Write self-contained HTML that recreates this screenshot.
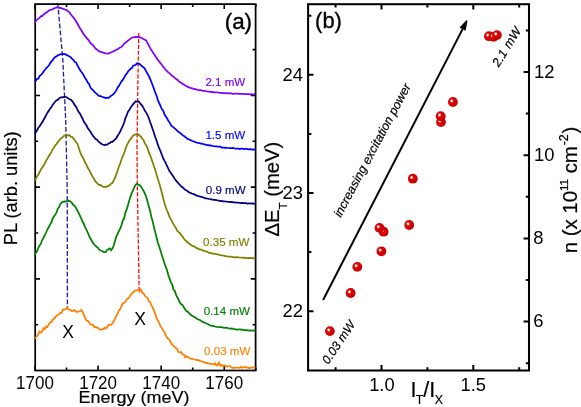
<!DOCTYPE html>
<html><head><meta charset="utf-8"><title>figure</title>
<style>html,body{margin:0;padding:0;background:#fff;}svg{display:block;}text{font-family:'Liberation Sans', sans-serif;}</style></head><body>
<svg width="581" height="407" viewBox="0 0 581 407">
<rect x="0" y="0" width="581" height="407" fill="#fff"/>
<defs><radialGradient id="sph" cx="0.38" cy="0.38" r="0.64" fx="0.38" fy="0.38"><stop offset="0" stop-color="#ffffff"/><stop offset="0.1" stop-color="#fff4f4"/><stop offset="0.22" stop-color="#ee6a6a"/><stop offset="0.33" stop-color="#d80404"/><stop offset="0.85" stop-color="#d00000"/><stop offset="1" stop-color="#b80000"/></radialGradient></defs>
<g id="panel-a">
<clipPath id="ca"><rect x="34.6" y="4.1" width="221.59999999999997" height="366.4"/></clipPath>
<path d="M57.8,3 L62.8,60 L65.7,120 L67.2,190 L67.4,308" fill="none" stroke="#1c1c9c" stroke-width="1.3" stroke-dasharray="4.8,2.1"/>
<path d="M138.8,33 L137.9,80 L137.0,150 L137.4,190 L139.2,293" fill="none" stroke="#ff0000" stroke-width="1.25" stroke-dasharray="4.1,1.8"/>
<rect x="35.2" y="4.1" width="220.39999999999998" height="366.4" fill="none" stroke="#000" stroke-width="1.75"/>
<path d="M35.00,4.1v5M35.00,370.5v-5M66.54,4.1v3M66.54,370.5v-3M98.08,4.1v5M98.08,370.5v-5M129.62,4.1v3M129.62,370.5v-3M161.16,4.1v5M161.16,370.5v-5M192.70,4.1v3M192.70,370.5v-3M224.24,4.1v5M224.24,370.5v-5M255.78,4.1v3M255.78,370.5v-3M35.2,49.60h3.0M255.6,49.60h-3.0M35.2,95.45h4.8M255.6,95.45h-4.8M35.2,141.30h3.0M255.6,141.30h-3.0M35.2,187.15h4.8M255.6,187.15h-4.8M35.2,233.00h3.0M255.6,233.00h-3.0M35.2,278.85h4.8M255.6,278.85h-4.8M35.2,324.70h3.0M255.6,324.70h-3.0" stroke="#000" stroke-width="1.6" fill="none"/>
<g clip-path="url(#ca)" fill="none" stroke-width="1.75" stroke-linejoin="miter">
<path d="M34.4,22.7 L35.7,21.0 L37.0,19.8 L38.3,18.6 L39.6,17.9 L40.9,16.1 L42.2,16.1 L43.5,14.5 L44.8,13.7 L46.1,12.6 L47.4,12.1 L48.7,10.5 L50.0,10.2 L51.3,9.5 L52.6,9.3 L53.9,8.3 L55.2,8.0 L56.5,7.5 L57.8,7.6 L59.1,7.8 L60.4,7.6 L61.7,8.4 L63.0,8.8 L64.3,9.2 L65.6,9.8 L66.9,10.1 L68.2,11.3 L69.5,12.4 L70.8,14.2 L72.1,16.0 L73.4,17.4 L74.7,19.3 L76.0,21.3 L77.3,23.5 L78.6,25.8 L79.9,28.2 L81.2,30.0 L82.5,32.2 L83.8,34.4 L85.1,36.0 L86.4,37.6 L87.7,39.1 L89.0,40.8 L90.3,42.9 L91.6,44.0 L92.9,45.2 L94.2,46.8 L95.5,48.6 L96.8,49.4 L98.1,50.6 L99.4,51.4 L100.7,51.8 L102.0,52.1 L103.3,52.7 L104.6,53.1 L105.9,53.4 L107.2,53.5 L108.5,53.3 L109.8,52.8 L111.1,52.5 L112.4,51.6 L113.7,51.4 L115.0,50.6 L116.3,49.8 L117.6,49.3 L118.9,48.3 L120.2,47.6 L121.5,46.7 L122.8,45.7 L124.1,43.8 L125.4,42.7 L126.7,41.7 L128.0,40.6 L129.3,39.6 L130.6,38.6 L131.9,37.5 L133.2,37.4 L134.5,37.2 L135.8,36.9 L137.1,37.0 L138.4,36.9 L139.7,37.3 L141.0,37.8 L142.3,38.4 L143.6,39.1 L144.9,39.8 L146.2,40.6 L147.5,42.8 L148.8,45.3 L150.1,47.9 L151.4,50.1 L152.7,52.0 L154.0,54.0 L155.3,55.9 L156.6,58.1 L157.9,59.9 L159.2,61.5 L160.5,63.3 L161.8,64.8 L163.1,66.7 L164.4,68.0 L165.7,69.8 L167.0,71.0 L168.3,72.4 L169.6,73.3 L170.9,74.7 L172.2,76.0 L173.5,76.7 L174.8,77.9 L176.1,79.0 L177.4,79.8 L178.7,81.2 L180.0,82.3 L181.3,82.8 L182.6,83.9 L183.9,84.4 L185.2,85.5 L186.5,86.0 L187.8,86.9 L189.1,87.4 L190.4,87.8 L191.7,88.1 L193.0,88.7 L194.3,89.1 L195.6,89.1 L196.9,89.7 L198.2,90.0 L199.5,90.1 L200.8,90.2 L202.1,90.7 L203.4,90.8 L204.7,91.0 L206.0,91.1 L207.3,91.5 L208.6,91.7 L209.9,91.7 L211.2,92.0 L212.5,91.9 L213.8,92.3 L215.1,92.3 L216.4,92.4 L217.7,92.5 L219.0,92.7 L220.3,92.8 L221.6,92.9 L222.9,93.0 L224.2,93.0 L225.5,93.2 L226.8,93.2 L228.1,93.3 L229.4,93.3 L230.7,93.2 L232.0,93.6 L233.3,93.8 L234.6,93.6 L235.9,93.6 L237.2,93.7 L238.5,93.8 L239.8,93.8 L241.1,93.8 L242.4,93.9 L243.7,93.9 L245.0,94.0 L246.3,94.0 L247.6,94.2 L248.9,94.1 L250.2,94.3 L251.5,94.2 L252.8,94.5 L254.1,94.1 L255.4,94.2" stroke="#8000ff"/>
<path d="M34.4,82.2 L35.7,80.9 L37.0,78.9 L38.3,78.7 L39.6,76.1 L40.9,74.9 L42.2,73.8 L43.5,71.6 L44.8,70.0 L46.1,68.3 L47.4,66.9 L48.7,65.8 L50.0,63.4 L51.3,61.4 L52.6,60.3 L53.9,58.3 L55.2,57.0 L56.5,56.4 L57.8,55.2 L59.1,54.9 L60.4,54.1 L61.7,54.1 L63.0,54.1 L64.3,53.8 L65.6,54.4 L66.9,55.1 L68.2,55.7 L69.5,56.4 L70.8,57.4 L72.1,58.9 L73.4,59.9 L74.7,62.0 L76.0,62.2 L77.3,65.0 L78.6,67.3 L79.9,69.8 L81.2,71.7 L82.5,73.3 L83.8,75.7 L85.1,78.1 L86.4,80.0 L87.7,82.5 L89.0,83.8 L90.3,87.2 L91.6,89.0 L92.9,89.9 L94.2,91.7 L95.5,92.9 L96.8,93.8 L98.1,95.1 L99.4,96.2 L100.7,96.2 L102.0,96.7 L103.3,97.2 L104.6,97.6 L105.9,98.1 L107.2,97.6 L108.5,97.8 L109.8,97.1 L111.1,95.6 L112.4,95.0 L113.7,93.9 L115.0,92.3 L116.3,90.4 L117.6,87.5 L118.9,85.9 L120.2,83.6 L121.5,81.3 L122.8,79.9 L124.1,77.8 L125.4,75.2 L126.7,73.7 L128.0,71.5 L129.3,70.2 L130.6,68.6 L131.9,68.1 L133.2,65.6 L134.5,65.3 L135.8,64.7 L137.1,63.3 L138.4,63.6 L139.7,64.0 L141.0,65.1 L142.3,66.5 L143.6,67.5 L144.9,68.8 L146.2,71.4 L147.5,73.7 L148.8,75.8 L150.1,78.9 L151.4,82.0 L152.7,85.5 L154.0,88.9 L155.3,93.0 L156.6,95.7 L157.9,100.1 L159.2,103.1 L160.5,105.9 L161.8,109.0 L163.1,110.5 L164.4,114.2 L165.7,116.4 L167.0,118.1 L168.3,120.8 L169.6,122.4 L170.9,125.1 L172.2,126.4 L173.5,127.4 L174.8,128.4 L176.1,129.7 L177.4,130.9 L178.7,132.0 L180.0,132.9 L181.3,134.0 L182.6,135.1 L183.9,136.0 L185.2,137.0 L186.5,137.9 L187.8,139.2 L189.1,139.4 L190.4,140.1 L191.7,140.8 L193.0,141.2 L194.3,141.7 L195.6,142.2 L196.9,142.7 L198.2,143.0 L199.5,143.1 L200.8,143.7 L202.1,143.6 L203.4,144.1 L204.7,144.4 L206.0,144.6 L207.3,145.1 L208.6,145.2 L209.9,145.6 L211.2,145.5 L212.5,146.0 L213.8,146.2 L215.1,146.3 L216.4,146.3 L217.7,146.6 L219.0,146.6 L220.3,146.7 L221.6,147.7 L222.9,147.5 L224.2,147.8 L225.5,147.6 L226.8,147.9 L228.1,148.0 L229.4,148.1 L230.7,148.2 L232.0,148.2 L233.3,148.0 L234.6,148.5 L235.9,148.6 L237.2,148.7 L238.5,148.6 L239.8,149.0 L241.1,148.7 L242.4,148.7 L243.7,149.1 L245.0,148.9 L246.3,148.9 L247.6,149.1 L248.9,149.3 L250.2,149.2 L251.5,149.3 L252.8,149.9 L254.1,149.4 L255.4,149.5" stroke="#0000ff"/>
<path d="M34.4,134.3 L35.7,132.2 L37.0,130.2 L38.3,127.8 L39.6,126.3 L40.9,124.3 L42.2,122.3 L43.5,120.0 L44.8,117.8 L46.1,115.2 L47.4,112.6 L48.7,110.9 L50.0,108.8 L51.3,107.2 L52.6,104.9 L53.9,103.2 L55.2,101.7 L56.5,100.2 L57.8,99.9 L59.1,98.4 L60.4,97.5 L61.7,97.1 L63.0,97.3 L64.3,96.9 L65.6,96.8 L66.9,97.4 L68.2,98.5 L69.5,99.0 L70.8,99.7 L72.1,100.9 L73.4,102.8 L74.7,105.2 L76.0,106.6 L77.3,109.3 L78.6,111.7 L79.9,113.5 L81.2,116.2 L82.5,118.5 L83.8,121.5 L85.1,123.5 L86.4,125.3 L87.7,128.1 L89.0,129.8 L90.3,131.5 L91.6,133.8 L92.9,135.7 L94.2,137.3 L95.5,139.0 L96.8,139.4 L98.1,141.1 L99.4,142.4 L100.7,143.3 L102.0,144.2 L103.3,144.7 L104.6,145.2 L105.9,144.5 L107.2,144.8 L108.5,143.5 L109.8,143.2 L111.1,141.9 L112.4,141.8 L113.7,140.8 L115.0,139.3 L116.3,138.4 L117.6,135.8 L118.9,133.9 L120.2,131.5 L121.5,128.7 L122.8,126.0 L124.1,122.8 L125.4,118.2 L126.7,115.2 L128.0,111.7 L129.3,110.0 L130.6,107.6 L131.9,105.8 L133.2,104.1 L134.5,102.6 L135.8,101.2 L137.1,101.7 L138.4,101.3 L139.7,102.8 L141.0,104.4 L142.3,105.8 L143.6,108.2 L144.9,110.7 L146.2,112.6 L147.5,115.2 L148.8,118.0 L150.1,122.0 L151.4,125.6 L152.7,129.3 L154.0,133.0 L155.3,137.3 L156.6,140.8 L157.9,144.7 L159.2,148.4 L160.5,151.2 L161.8,154.5 L163.1,158.2 L164.4,160.7 L165.7,162.9 L167.0,166.0 L168.3,168.7 L169.6,171.2 L170.9,173.1 L172.2,174.9 L173.5,176.8 L174.8,179.1 L176.1,180.7 L177.4,182.1 L178.7,183.7 L180.0,185.0 L181.3,186.6 L182.6,187.3 L183.9,188.7 L185.2,189.7 L186.5,190.6 L187.8,191.3 L189.1,192.4 L190.4,192.8 L191.7,193.5 L193.0,193.9 L194.3,194.3 L195.6,195.1 L196.9,195.6 L198.2,196.0 L199.5,196.4 L200.8,196.7 L202.1,197.1 L203.4,197.5 L204.7,198.2 L206.0,198.3 L207.3,198.5 L208.6,198.9 L209.9,199.0 L211.2,199.3 L212.5,199.7 L213.8,199.8 L215.1,199.8 L216.4,200.1 L217.7,200.5 L219.0,200.7 L220.3,201.0 L221.6,200.9 L222.9,201.3 L224.2,201.4 L225.5,201.5 L226.8,201.7 L228.1,201.8 L229.4,201.8 L230.7,202.2 L232.0,202.0 L233.3,202.3 L234.6,202.4 L235.9,202.5 L237.2,202.5 L238.5,202.7 L239.8,202.8 L241.1,203.0 L242.4,202.9 L243.7,203.1 L245.0,203.1 L246.3,203.1 L247.6,203.7 L248.9,203.4 L250.2,203.3 L251.5,203.7 L252.8,203.4 L254.1,203.7 L255.4,203.8" stroke="#000080"/>
<path d="M34.4,181.0 L35.7,179.0 L37.0,176.3 L38.3,174.7 L39.6,172.1 L40.9,169.5 L42.2,167.6 L43.5,165.8 L44.8,163.4 L46.1,160.6 L47.4,158.8 L48.7,156.3 L50.0,154.3 L51.3,152.1 L52.6,149.4 L53.9,147.8 L55.2,145.3 L56.5,144.1 L57.8,142.1 L59.1,140.5 L60.4,138.9 L61.7,138.0 L63.0,136.9 L64.3,135.5 L65.6,136.0 L66.9,135.0 L68.2,135.6 L69.5,135.1 L70.8,136.9 L72.1,136.9 L73.4,138.4 L74.7,140.1 L76.0,141.9 L77.3,143.8 L78.6,147.3 L79.9,151.2 L81.2,154.7 L82.5,157.1 L83.8,159.4 L85.1,162.6 L86.4,164.6 L87.7,167.8 L89.0,169.6 L90.3,172.4 L91.6,174.6 L92.9,177.3 L94.2,179.1 L95.5,181.6 L96.8,182.7 L98.1,184.2 L99.4,185.0 L100.7,184.9 L102.0,186.3 L103.3,186.8 L104.6,186.8 L105.9,187.1 L107.2,186.2 L108.5,186.1 L109.8,185.0 L111.1,183.7 L112.4,183.1 L113.7,180.5 L115.0,177.7 L116.3,174.1 L117.6,170.7 L118.9,166.5 L120.2,163.6 L121.5,159.5 L122.8,156.2 L124.1,153.2 L125.4,149.3 L126.7,145.6 L128.0,143.2 L129.3,140.5 L130.6,139.1 L131.9,137.2 L133.2,135.4 L134.5,134.8 L135.8,134.4 L137.1,134.0 L138.4,134.4 L139.7,135.7 L141.0,136.5 L142.3,138.8 L143.6,140.3 L144.9,143.5 L146.2,145.3 L147.5,148.0 L148.8,152.2 L150.1,155.2 L151.4,158.7 L152.7,162.5 L154.0,166.4 L155.3,170.2 L156.6,174.8 L157.9,178.9 L159.2,182.9 L160.5,187.8 L161.8,192.6 L163.1,198.0 L164.4,202.8 L165.7,207.0 L167.0,210.5 L168.3,213.4 L169.6,217.0 L170.9,219.1 L172.2,221.8 L173.5,224.1 L174.8,226.4 L176.1,228.4 L177.4,231.0 L178.7,232.2 L180.0,233.2 L181.3,235.3 L182.6,236.6 L183.9,238.8 L185.2,240.2 L186.5,241.2 L187.8,242.5 L189.1,243.5 L190.4,244.5 L191.7,245.5 L193.0,245.9 L194.3,246.5 L195.6,247.5 L196.9,248.1 L198.2,248.7 L199.5,249.4 L200.8,249.6 L202.1,249.9 L203.4,250.9 L204.7,251.1 L206.0,251.4 L207.3,251.8 L208.6,252.6 L209.9,252.8 L211.2,253.1 L212.5,253.6 L213.8,253.6 L215.1,253.9 L216.4,254.2 L217.7,254.4 L219.0,254.8 L220.3,255.0 L221.6,255.4 L222.9,255.5 L224.2,255.8 L225.5,256.1 L226.8,256.4 L228.1,256.6 L229.4,256.6 L230.7,256.7 L232.0,256.8 L233.3,257.1 L234.6,257.3 L235.9,257.1 L237.2,257.4 L238.5,257.4 L239.8,257.5 L241.1,257.6 L242.4,257.7 L243.7,257.9 L245.0,257.7 L246.3,257.9 L247.6,258.0 L248.9,257.9 L250.2,258.2 L251.5,258.0 L252.8,258.3 L254.1,258.1 L255.4,258.3" stroke="#808000"/>
<path d="M34.4,255.6 L35.7,252.8 L37.0,251.6 L38.3,247.8 L39.6,245.5 L40.9,243.7 L42.2,240.0 L43.5,237.6 L44.8,235.3 L46.1,232.5 L47.4,229.5 L48.7,227.3 L50.0,224.6 L51.3,222.5 L52.6,218.7 L53.9,216.5 L55.2,214.7 L56.5,212.6 L57.8,208.6 L59.1,207.0 L60.4,204.0 L61.7,202.5 L63.0,201.8 L64.3,201.4 L65.6,201.6 L66.9,201.1 L68.2,200.7 L69.5,200.9 L70.8,201.9 L72.1,203.1 L73.4,205.0 L74.7,205.9 L76.0,208.0 L77.3,210.3 L78.6,212.9 L79.9,215.7 L81.2,218.4 L82.5,221.5 L83.8,223.7 L85.1,227.4 L86.4,229.6 L87.7,232.5 L89.0,235.6 L90.3,238.3 L91.6,240.5 L92.9,242.9 L94.2,244.5 L95.5,245.8 L96.8,246.8 L98.1,248.1 L99.4,249.9 L100.7,250.5 L102.0,250.8 L103.3,251.8 L104.6,252.0 L105.9,251.9 L107.2,249.7 L108.5,249.3 L109.8,248.4 L111.1,250.2 L112.4,248.5 L113.7,245.8 L115.0,241.1 L116.3,236.7 L117.6,234.2 L118.9,231.0 L120.2,228.7 L121.5,225.1 L122.8,220.5 L124.1,218.3 L125.4,212.6 L126.7,209.4 L128.0,205.1 L129.3,200.2 L130.6,196.4 L131.9,192.6 L133.2,190.2 L134.5,186.8 L135.8,184.5 L137.1,183.6 L138.4,184.9 L139.7,185.1 L141.0,186.7 L142.3,188.6 L143.6,190.8 L144.9,193.6 L146.2,196.7 L147.5,201.5 L148.8,206.2 L150.1,211.0 L151.4,216.9 L152.7,221.5 L154.0,227.2 L155.3,232.4 L156.6,237.5 L157.9,242.8 L159.2,246.5 L160.5,250.5 L161.8,254.9 L163.1,258.9 L164.4,263.1 L165.7,266.9 L167.0,270.0 L168.3,275.0 L169.6,278.6 L170.9,282.3 L172.2,284.7 L173.5,289.6 L174.8,291.0 L176.1,295.0 L177.4,297.5 L178.7,299.9 L180.0,302.8 L181.3,304.3 L182.6,305.1 L183.9,307.3 L185.2,309.4 L186.5,311.2 L187.8,311.7 L189.1,313.2 L190.4,314.6 L191.7,315.4 L193.0,316.2 L194.3,316.9 L195.6,317.7 L196.9,318.7 L198.2,319.5 L199.5,319.8 L200.8,320.6 L202.1,321.7 L203.4,322.1 L204.7,322.7 L206.0,323.3 L207.3,323.8 L208.6,324.6 L209.9,325.2 L211.2,325.7 L212.5,325.8 L213.8,326.1 L215.1,326.5 L216.4,326.8 L217.7,327.0 L219.0,327.2 L220.3,327.0 L221.6,327.0 L222.9,327.7 L224.2,327.7 L225.5,327.9 L226.8,327.9 L228.1,328.0 L229.4,328.7 L230.7,328.7 L232.0,328.5 L233.3,329.0 L234.6,329.1 L235.9,329.3 L237.2,329.8 L238.5,329.4 L239.8,329.3 L241.1,329.7 L242.4,329.7 L243.7,330.1 L245.0,330.1 L246.3,330.3 L247.6,330.2 L248.9,330.5 L250.2,330.4 L251.5,330.7 L252.8,330.6 L254.1,330.5 L255.4,330.9" stroke="#008000"/>
<path d="M34.4,338.4 L35.7,337.8 L37.0,336.1 L38.3,334.0 L39.6,331.5 L40.9,332.6 L42.2,331.4 L43.5,328.2 L44.8,329.1 L46.1,326.4 L47.4,327.1 L48.7,324.4 L50.0,322.5 L51.3,322.2 L52.6,320.1 L53.9,318.7 L55.2,317.3 L56.5,315.8 L57.8,315.1 L59.1,314.2 L60.4,312.9 L61.7,312.8 L63.0,309.6 L64.3,309.3 L65.6,309.4 L66.9,307.6 L68.2,309.3 L69.5,309.6 L70.8,310.3 L72.1,311.2 L73.4,310.6 L74.7,310.1 L76.0,311.8 L77.3,311.9 L78.6,311.4 L79.9,311.4 L81.2,310.1 L82.5,311.8 L83.8,314.5 L85.1,317.9 L86.4,320.6 L87.7,320.9 L89.0,322.1 L90.3,324.5 L91.6,324.7 L92.9,324.7 L94.2,327.4 L95.5,326.7 L96.8,327.6 L98.1,327.9 L99.4,329.3 L100.7,330.0 L102.0,329.0 L103.3,329.0 L104.6,327.6 L105.9,328.5 L107.2,327.0 L108.5,324.7 L109.8,324.9 L111.1,324.6 L112.4,323.5 L113.7,321.0 L115.0,318.6 L116.3,316.3 L117.6,313.7 L118.9,310.5 L120.2,309.2 L121.5,306.1 L122.8,303.3 L124.1,303.0 L125.4,301.6 L126.7,299.4 L128.0,298.5 L129.3,297.3 L130.6,295.1 L131.9,293.3 L133.2,292.5 L134.5,290.6 L135.8,290.7 L137.1,290.2 L138.4,290.1 L139.7,291.0 L141.0,289.6 L142.3,292.8 L143.6,293.4 L144.9,295.8 L146.2,296.9 L147.5,297.8 L148.8,301.0 L150.1,302.1 L151.4,305.4 L152.7,307.3 L154.0,310.4 L155.3,313.9 L156.6,318.3 L157.9,320.5 L159.2,322.9 L160.5,326.6 L161.8,328.0 L163.1,330.2 L164.4,332.1 L165.7,335.2 L167.0,337.4 L168.3,338.9 L169.6,339.9 L170.9,342.9 L172.2,344.6 L173.5,345.8 L174.8,346.8 L176.1,348.1 L177.4,349.7 L178.7,352.2 L180.0,352.4 L181.3,352.1 L182.6,354.5 L183.9,354.6 L185.2,357.3 L186.5,356.2 L187.8,357.1 L189.1,357.8 L190.4,358.5 L191.7,358.8 L193.0,359.2 L194.3,359.5 L195.6,359.7 L196.9,360.2 L198.2,360.0 L199.5,360.8 L200.8,361.1 L202.1,361.6 L203.4,361.9 L204.7,362.4 L206.0,363.1 L207.3,362.9 L208.6,363.4 L209.9,363.8 L211.2,363.6 L212.5,364.0 L213.8,364.6 L215.1,363.4 L216.4,365.3 L217.7,364.7 L219.0,362.7 L220.3,365.8 L221.6,364.8 L222.9,366.5 L224.2,365.4 L225.5,366.1 L226.8,366.8 L228.1,366.0 L229.4,366.0 L230.7,366.7 L232.0,367.8 L233.3,367.7 L234.6,368.0 L235.9,367.3 L237.2,367.5 L238.5,367.9 L239.8,367.7 L241.1,366.8 L242.4,367.9 L243.7,367.1 L245.0,366.9 L246.3,367.6 L247.6,367.5 L248.9,368.2 L250.2,367.8 L251.5,367.4 L252.8,367.6 L254.1,367.3 L255.4,367.5" stroke="#ff8000"/>
</g>
<text transform="translate(245.3,85.8) scale(1.025,1)" font-size="11.3" fill="#8000ff" stroke="#8000ff" stroke-width="0.15" text-anchor="end">2.1 mW</text>
<text transform="translate(245.3,139.3) scale(1.025,1)" font-size="11.3" fill="#0000ff" stroke="#0000ff" stroke-width="0.15" text-anchor="end">1.5 mW</text>
<text transform="translate(245.7,193.8) scale(1.025,1)" font-size="11.3" fill="#000080" stroke="#000080" stroke-width="0.15" text-anchor="end">0.9 mW</text>
<text transform="translate(249.4,245.7) scale(1.025,1)" font-size="11.3" fill="#808000" stroke="#808000" stroke-width="0.15" text-anchor="end">0.35 mW</text>
<text transform="translate(250,315.4) scale(1.025,1)" font-size="11.3" fill="#008000" stroke="#008000" stroke-width="0.15" text-anchor="end">0.14 mW</text>
<text transform="translate(250.4,354.5) scale(1.025,1)" font-size="11.3" fill="#ff8000" stroke="#ff8000" stroke-width="0.15" text-anchor="end">0.03 mW</text>
<text transform="translate(252.1,28.8) scale(1.03,1)" font-size="21.8" text-anchor="end" fill="#000" stroke="#000" stroke-width="0.35">(a)</text>
<text x="68" y="338" font-size="17.5" text-anchor="middle" fill="#000">X</text>
<text x="140" y="325.2" font-size="17.5" text-anchor="middle" fill="#000">X</text>
<text transform="translate(35.0,388.6) scale(0.96,1)" font-size="17.7" text-anchor="middle" fill="#000">1700</text>
<text transform="translate(98.1,388.6) scale(0.96,1)" font-size="17.7" text-anchor="middle" fill="#000">1720</text>
<text transform="translate(161.2,388.6) scale(0.96,1)" font-size="17.7" text-anchor="middle" fill="#000">1740</text>
<text transform="translate(224.2,388.6) scale(0.96,1)" font-size="17.7" text-anchor="middle" fill="#000">1760</text>
<text transform="translate(134,403.2) scale(1.04,1)" font-size="17.3" text-anchor="middle" fill="#000" stroke="#000" stroke-width="0.2">Energy (meV)</text>
<text transform="translate(17,188.3) rotate(-90) scale(1.015,1)" font-size="18" stroke="#000" stroke-width="0.2" text-anchor="middle" fill="#000">PL (arb. units)</text>
</g>
<g id="panel-b">
<rect x="308.1" y="4.2" width="220.89999999999998" height="366.3" fill="none" stroke="#000" stroke-width="2.05"/>
<path d="M308.1,15.70h3.3M308.1,74.80h5.4M308.1,133.90h3.3M308.1,193.00h5.4M308.1,252.10h3.3M308.1,311.20h5.4M529.0,363.20h-3.2M529.0,321.60h-5.4M529.0,280.00h-3.2M529.0,238.40h-5.4M529.0,196.80h-3.2M529.0,155.20h-5.4M529.0,113.60h-3.2M529.0,72.00h-5.4M529.0,30.40h-3.2M335.60,4.2v3.3M335.60,370.5v-3.3M381.50,4.2v5.4M381.50,370.5v-5.4M427.40,4.2v3.3M427.40,370.5v-3.3M473.30,4.2v5.4M473.30,370.5v-5.4M519.20,4.2v3.3M519.20,370.5v-3.3" stroke="#000" stroke-width="2.0" fill="none"/>
<text x="302.9" y="80.7" font-size="18.4" text-anchor="end" fill="#000">24</text>
<text x="302.9" y="198.9" font-size="18.4" text-anchor="end" fill="#000">23</text>
<text x="302.9" y="317.1" font-size="18.4" text-anchor="end" fill="#000">22</text>
<text x="534.0" y="77.5" font-size="18.4" fill="#000">12</text>
<text x="534.0" y="160.7" font-size="18.4" fill="#000">10</text>
<text x="533.3" y="243.9" font-size="18.4" fill="#000">8</text>
<text x="533.3" y="327.1" font-size="18.4" fill="#000">6</text>
<text x="381.9" y="390.5" font-size="18.3" text-anchor="middle" fill="#000">1.0</text>
<text x="473.3" y="390.5" font-size="18.3" text-anchor="middle" fill="#000">1.5</text>
<text x="315.1" y="27.9" font-size="21.9" fill="#000" stroke="#000" stroke-width="0.35">(b)</text>
<text x="410.4" y="396.5" font-size="21.5" fill="#000" stroke="#000" stroke-width="0.2">I<tspan font-size="12.3" dy="7.2" dx="-0.6">T</tspan><tspan dy="-7.2" dx="-0.1">/I</tspan><tspan font-size="12.3" dy="7.2" dx="-0.3">X</tspan></text>
<text transform="translate(279.2,236.5) rotate(-90) scale(1.012,1)" font-size="20" stroke="#000" stroke-width="0.2" fill="#000">ΔE<tspan font-size="11.5" dy="7.8">T</tspan><tspan dy="-7.8"> (meV)</tspan></text>
<text transform="translate(577.3,253.3) rotate(-90) scale(1.02,1)" font-size="20" stroke="#000" stroke-width="0.2" fill="#000">n (x 10<tspan font-size="11.3" dy="-9.5">11</tspan><tspan dy="9.5"> cm</tspan><tspan font-size="12.2" dy="-9.3" dx="0.8">-2</tspan><tspan dy="9.3" dx="0.8">)</tspan></text>
<line x1="323.1" y1="300.0" x2="463.1" y2="28.1" stroke="#000" stroke-width="2"/>
<polygon points="466.7,21.1 465.0,29.8 463.1,28.1 460.6,27.5" fill="#000" stroke="#000" stroke-width="1.5" stroke-linejoin="round"/>
<text transform="translate(340.7,218.1) rotate(-61.9)" font-size="12.4" font-style="italic" fill="#000" stroke="#000" stroke-width="0.2">increasing excitation power</text>
<text transform="translate(328.2,365.1) rotate(-56)" font-size="12.3" font-style="italic" fill="#000" stroke="#000" stroke-width="0.2">0.03 mW</text>
<text transform="translate(498.8,67.6) rotate(-58.3)" font-size="12.4" word-spacing="0.8" font-style="italic" fill="#000" stroke="#000" stroke-width="0.2">2.1 mW</text>
<circle cx="329.9" cy="331.1" r="4.9" fill="url(#sph)"/>
<circle cx="350.6" cy="293.0" r="4.9" fill="url(#sph)"/>
<circle cx="357.3" cy="266.9" r="4.9" fill="url(#sph)"/>
<circle cx="381.4" cy="251.3" r="4.9" fill="url(#sph)"/>
<circle cx="383.6" cy="231.7" r="4.9" fill="url(#sph)"/>
<circle cx="379.5" cy="227.9" r="4.9" fill="url(#sph)"/>
<circle cx="409.2" cy="225.0" r="4.9" fill="url(#sph)"/>
<circle cx="412.8" cy="178.7" r="4.9" fill="url(#sph)"/>
<circle cx="441" cy="122.1" r="4.9" fill="url(#sph)"/>
<circle cx="440.7" cy="116.2" r="4.9" fill="url(#sph)"/>
<circle cx="452.9" cy="102.0" r="4.9" fill="url(#sph)"/>
<circle cx="488.9" cy="36.2" r="4.9" fill="url(#sph)"/>
<circle cx="493.5" cy="36.9" r="4.9" fill="url(#sph)"/>
<circle cx="496.9" cy="35.1" r="4.9" fill="url(#sph)"/>
</g>
</svg></body></html>
